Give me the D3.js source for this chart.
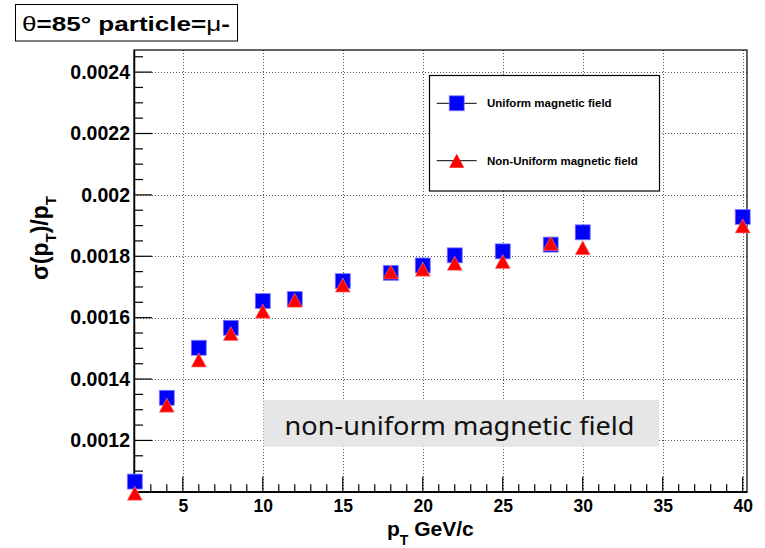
<!DOCTYPE html>
<html>
<head>
<meta charset="utf-8">
<script src="https://cdn.jsdelivr.net/npm/d3@7"></script>
<style>
  body { margin: 0; background: #fff; }
  svg { display: block; }
  text { font-family: "Liberation Sans", Arial, sans-serif; }
</style>
</head>
<body>
<svg id="chart" width="765" height="548"></svg>
<script>
// pT points (GeV/c) and resolution for the two field maps
var pt = [2, 4, 6, 8, 10, 12, 15, 18, 20, 22, 25, 28, 30, 40]
var uniform = [0.001066, 0.001339, 0.001502, 0.001567, 0.001654, 0.001661, 0.001719,
               0.001746, 0.001770, 0.001803, 0.001816, 0.001838, 0.001878, 0.001928]
var nonUniform = [0.001028, 0.001315, 0.001462, 0.001548, 0.001621, 0.001657, 0.001706,
                  0.001749, 0.001758, 0.001777, 0.001783, 0.001842, 0.001828, 0.001899]

var xTicks = [5, 10, 15, 20, 25, 30, 35, 40]
var yTicks = [0.0012, 0.0014, 0.0016, 0.0018, 0.002, 0.0022, 0.0024]
var yTickLabels = ["0.0012", "0.0014", "0.0016", "0.0018", "0.002", "0.0022", "0.0024"]
var legendLabels = ["Uniform magnetic field", "Non-Uniform magnetic field"]

var frame = {left: 134, right: 747, top: 50, bottom: 491.7}

var svg = d3.select("#chart")

var x = d3.scaleLinear().domain([1.95, 40.27]).range([frame.left, frame.right])
var y = d3.scaleLinear().domain([0.001033, 0.002472]).range([frame.bottom, frame.top])

// grid
var grid = svg.append("g").attr("stroke", "#555").attr("stroke-width", 1)
  .attr("stroke-dasharray", "1,2")
grid.selectAll(".gx").data(xTicks).enter().append("line")
  .attr("x1", function(d) { return Math.round(x(d)) + 0.5 })
  .attr("x2", function(d) { return Math.round(x(d)) + 0.5 })
  .attr("y1", frame.top).attr("y2", frame.bottom)
grid.selectAll(".gy").data(yTicks).enter().append("line")
  .attr("y1", function(d) { return Math.round(y(d)) + 0.5 })
  .attr("y2", function(d) { return Math.round(y(d)) + 0.5 })
  .attr("x1", frame.left).attr("x2", frame.right)

// frame
svg.append("rect")
  .attr("x", frame.left).attr("y", frame.top)
  .attr("width", frame.right - frame.left).attr("height", frame.bottom - frame.top)
  .attr("fill", "none").attr("stroke", "#000").attr("stroke-width", 1.2)

// axes
var xAxis = d3.axisBottom(x).tickValues(xTicks).tickSize(0).tickPadding(8)
var gx = svg.append("g").attr("transform", "translate(0," + frame.bottom + ")").call(xAxis)
gx.select(".domain").attr("stroke-width", 1.5)
gx.selectAll("text").attr("font-size", 17.5).attr("font-weight", "bold").attr("fill", "#000")

var yAxis = d3.axisLeft(y).tickValues(yTicks).tickSize(0).tickPadding(4)
  .tickFormat(function(d, i) { return yTickLabels[i] })
var gy = svg.append("g").attr("transform", "translate(" + frame.left + ",0)").call(yAxis)
gy.select(".domain").attr("stroke-width", 1.5)
gy.selectAll("text").attr("font-size", 19.5).attr("font-weight", "bold").attr("fill", "#000")

// tick marks drawn inside the frame, root style
var xMinor = d3.range(2, 41, 1)
svg.append("g").selectAll("line").data(xMinor).enter().append("line")
  .attr("x1", function(d) { return x(d) }).attr("x2", function(d) { return x(d) })
  .attr("y1", frame.bottom)
  .attr("y2", function(d) { return frame.bottom - (d % 5 === 0 ? 15 : 7.5) })
  .attr("stroke", "#000").attr("stroke-width", 1.2)

var yMinor = d3.range(21, 50, 1).map(function(d) { return d * 0.00005 })
svg.append("g").selectAll("line").data(yMinor).enter().append("line")
  .attr("y1", function(d) { return y(d) }).attr("y2", function(d) { return y(d) })
  .attr("x1", frame.left)
  .attr("x2", function(d, i) { return frame.left + ((i + 21) % 4 === 0 ? 18 : 9) })
  .attr("stroke", "#000").attr("stroke-width", 1.2)

// axis titles
var xt = svg.append("text").attr("x", 387).attr("y", 536)
  .attr("font-size", 21).attr("font-weight", "bold")
xt.append("tspan").text("p")
xt.append("tspan").attr("font-size", 14).attr("dy", 9).text("T")
xt.append("tspan").attr("dy", -9).text(" GeV/c")

var yt = svg.append("text").attr("transform", "translate(48,238) rotate(-90)")
  .attr("text-anchor", "middle").attr("font-size", 23).attr("font-weight", "bold")
yt.append("tspan").text("σ(p")
yt.append("tspan").attr("font-size", 15).attr("dy", 8).text("T")
yt.append("tspan").attr("dy", -8).text(")/p")
yt.append("tspan").attr("font-size", 15).attr("dy", 8).text("T")

// gray annotation box
svg.append("rect").attr("x", 263.5).attr("y", 400).attr("width", 395.5).attr("height", 46.7)
  .attr("fill", "#e6e6e6")
svg.append("text").attr("x", 284.5).attr("y", 435)
  .style("font-family", "'Noto Sans', sans-serif").attr("font-size", 25).attr("fill", "#111")
  .attr("textLength", 350).attr("lengthAdjust", "spacingAndGlyphs")
  .text("non-uniform magnetic field")

// markers
var sq = 15
function triangle(cx, cy) {
  return "M" + (cx - 7.5) + "," + (cy + 7) + "L" + (cx + 7.5) + "," + (cy + 7) + "L" + cx + "," + (cy - 7) + "Z"
}

svg.append("g").selectAll("rect").data(pt).enter().append("rect")
  .attr("x", function(d) { return x(d) - sq / 2 })
  .attr("y", function(d, i) { return y(uniform[i]) - sq / 2 })
  .attr("width", sq).attr("height", sq)
  .attr("fill", "#0000ff").attr("stroke", "#8080ff").attr("stroke-width", 0.8)

svg.append("g").selectAll("path").data(pt).enter().append("path")
  .attr("d", function(d, i) { return triangle(x(d), y(nonUniform[i])) })
  .attr("fill", "#ff0000").attr("stroke", "#ff8080").attr("stroke-width", 0.6)

// legend
var lg = svg.append("g")
lg.append("rect").attr("x", 429.5).attr("y", 75.5).attr("width", 230).attr("height", 115.5)
  .attr("fill", "#fff").attr("stroke", "#000").attr("stroke-width", 1.2)
var rowsY = [103.3, 160.7]
rowsY.forEach(function(ry, i) {
  lg.append("line").attr("x1", 436.7).attr("x2", 476.7).attr("y1", ry).attr("y2", ry)
    .attr("stroke", "#000").attr("stroke-width", 1)
  if (i === 0) {
    lg.append("rect").attr("x", 456.7 - sq / 2).attr("y", ry - sq / 2).attr("width", sq).attr("height", sq)
      .attr("fill", "#0000ff").attr("stroke", "#8080ff").attr("stroke-width", 0.8)
  } else {
    lg.append("path").attr("d", triangle(456.7, ry)).attr("fill", "#ff0000")
  }
  lg.append("text").attr("x", 487).attr("y", ry + 4).attr("font-size", 11.5)
    .attr("font-weight", "bold").text(legendLabels[i])
})

// title box
svg.append("rect").attr("x", 15.5).attr("y", 4.5).attr("width", 222).attr("height", 36.5)
  .attr("fill", "#fff").attr("stroke", "#000").attr("stroke-width", 1)
var tt = svg.append("text").attr("x", 22).attr("y", 31).attr("font-size", 21)
  .attr("font-weight", "bold").attr("textLength", 208).attr("lengthAdjust", "spacingAndGlyphs")
tt.append("tspan").attr("font-weight", "normal").text("θ")
tt.append("tspan").text("=85° particle=")
tt.append("tspan").attr("font-weight", "normal").text("μ")
tt.append("tspan").text("-")
</script>
</body>
</html>
